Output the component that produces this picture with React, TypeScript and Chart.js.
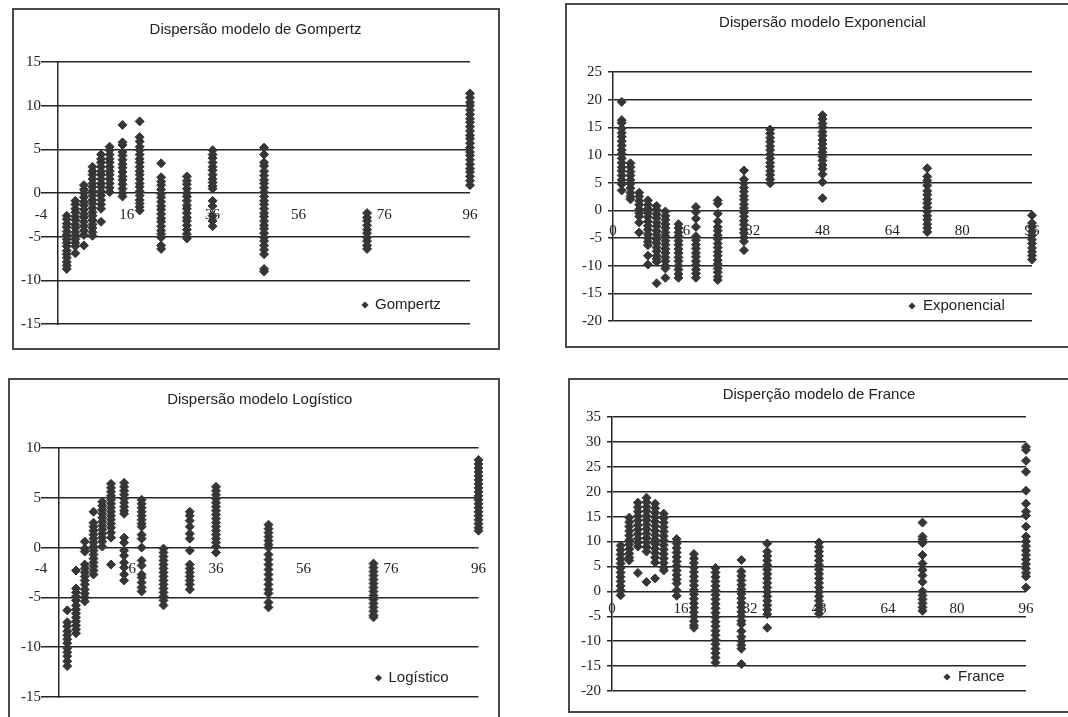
import React, { useEffect, useRef } from "react";
import { Chart, registerables } from "chart.js";

Chart.register(...registerables);

// Sampling times (h)
const times = [2, 4, 6, 8, 10, 12, 15, 19, 24, 30, 36, 48, 72, 96];

// Residuals, one list per sampling time
const gompertz: number[][] = [
  [-2.6, -3.0, -3.5, -3.9, -4.4, -4.8, -5.3, -5.7, -6.1, -6.6, -7.0, -7.4, -7.9, -8.3, -8.7],
  [-0.9, -1.3, -1.8, -2.2, -2.7, -3.1, -3.6, -4.0, -4.5, -4.9, -5.3, -5.7, -6.1, -6.9],
  [0.9, 0.4, 0.0, -0.5, -1.0, -1.4, -1.9, -2.4, -2.8, -3.3, -3.8, -4.3, -4.8, -6.0],
  [3.0, 2.5, 2.1, 1.6, 1.1, 0.7, 0.2, -0.3, -0.8, -1.2, -1.7, -2.2, -2.6, -3.1, -3.6, -4.0, -4.5, -4.9],
  [4.4, 3.9, 3.5, 3.0, 2.5, 2.1, 1.6, 1.1, 0.7, 0.2, -0.3, -0.8, -1.3, -1.8, -3.3],
  [5.3, 4.9, 4.4, 3.9, 3.5, 3.0, 2.5, 2.1, 1.6, 1.1, 0.6, 0.1],
  [7.8, 5.8, 5.5, 4.7, 4.3, 3.8, 3.3, 2.9, 2.4, 1.9, 1.5, 1.0, 0.5, 0.0, -0.4],
  [8.2, 6.4, 5.9, 5.3, 4.9, 4.4, 3.9, 3.5, 3.0, 2.5, 2.1, 1.6, 1.1, 0.7, 0.2, -0.3, -0.8, -1.2, -1.6, -2.0],
  [3.4, 1.8, 1.3, 0.9, 0.4, -0.1, -0.5, -1.0, -1.5, -1.9, -2.4, -2.9, -3.3, -3.8, -4.3, -4.7, -5.1, -6.0, -6.4],
  [1.9, 1.4, 1.0, 0.5, 0.0, -0.4, -0.9, -1.4, -1.8, -2.3, -2.8, -3.2, -3.7, -4.2, -4.7, -5.2],
  [4.9, 4.4, 4.0, 3.5, 3.0, 2.6, 2.1, 1.6, 1.2, 0.8, 0.5, -0.9, -1.5, -2.6, -3.2, -3.8],
  [5.2, 4.4, 3.5, 3.1, 2.5, 2.0, 1.5, 1.1, 0.6, 0.1, -0.4, -0.9, -1.3, -1.8, -2.3, -2.7, -3.2, -3.7, -4.1, -4.6, -5.1, -5.5, -6.0, -6.5, -7.0, -8.7, -9.0],
  [-2.3, -2.8, -3.2, -3.7, -4.2, -4.6, -5.1, -5.5, -6.0, -6.4],
  [11.4, 10.9, 10.4, 10.0, 9.5, 9.0, 8.5, 8.1, 7.6, 7.1, 6.6, 6.2, 5.7, 5.2, 4.7, 4.3, 3.8, 3.3, 2.8, 2.4, 1.9, 1.4, 0.9],
];

const exponencial: number[][] = [
  [19.6, 16.3, 15.8, 14.8, 14.0, 13.3, 12.5, 11.7, 10.9, 10.2, 9.4, 8.6, 7.8, 7.1, 6.3, 5.5, 4.7, 3.6],
  [8.5, 7.8, 7.0, 6.3, 5.5, 4.8, 4.0, 3.2, 2.5, 2.0],
  [3.2, 2.5, 1.7, 1.0, 0.2, -0.5, -1.1, -2.2, -4.0],
  [1.8, 1.0, 0.3, -0.5, -1.2, -2.0, -2.8, -3.5, -4.3, -5.0, -5.7, -6.3, -8.2, -9.8],
  [0.8, 0.1, -0.7, -1.4, -2.2, -2.9, -3.7, -4.4, -5.2, -5.9, -6.7, -7.4, -8.2, -8.8, -9.3, -13.2],
  [-0.2, -1.0, -1.7, -2.5, -3.2, -4.0, -4.7, -5.5, -6.2, -7.0, -7.7, -8.5, -9.2, -10.0, -10.5, -12.2],
  [-2.5, -3.2, -4.0, -4.7, -5.5, -6.2, -7.0, -7.7, -8.5, -9.2, -10.0, -10.7, -11.5, -12.2],
  [0.6, -0.3, -1.5, -3.0, -4.7, -5.4, -6.2, -6.9, -7.7, -8.4, -9.2, -9.9, -10.7, -11.4, -12.2],
  [1.8, 1.2, -0.6, -2.0, -3.0, -3.7, -4.5, -5.2, -6.0, -6.7, -7.5, -8.2, -9.0, -9.7, -10.5, -11.2, -12.0, -12.6],
  [7.2, 5.6, 4.9, 4.1, 3.4, 2.6, 1.9, 1.1, 0.4, -0.4, -1.1, -1.9, -2.6, -3.4, -4.1, -4.9, -5.6, -7.2],
  [14.6, 13.9, 13.1, 12.4, 11.6, 10.9, 10.1, 9.4, 8.6, 7.9, 7.1, 6.4, 5.6, 4.9],
  [17.2, 16.5, 15.7, 15.0, 14.2, 13.5, 12.7, 12.0, 11.2, 10.5, 9.7, 9.0, 8.2, 7.5, 6.5, 5.1, 2.2],
  [7.6, 6.1, 5.4, 4.5, 3.5, 2.8, 2.0, 1.3, 0.5, -0.2, -1.0, -1.7, -2.5, -3.2, -3.9],
  [-0.9, -2.3, -3.0, -3.8, -4.5, -5.3, -6.0, -6.8, -7.5, -8.2, -8.9],
];

const logistico: number[][] = [
  [-6.3, -7.5, -7.9, -8.4, -8.8, -9.2, -9.6, -10.1, -10.5, -10.9, -11.4, -11.9],
  [-2.3, -4.1, -4.5, -4.9, -5.3, -5.8, -6.2, -6.6, -7.0, -7.4, -7.8, -8.2, -8.6],
  [0.6, -0.1, -0.4, -1.7, -2.1, -2.5, -2.9, -3.3, -3.7, -4.2, -4.6, -5.0, -5.4],
  [3.6, 2.5, 2.1, 1.7, 1.3, 0.9, 0.5, 0.1, -0.3, -0.7, -1.1, -1.5, -1.9, -2.3, -2.7],
  [4.6, 4.2, 3.8, 3.4, 3.0, 2.6, 2.2, 1.8, 1.4, 1.0, 0.6, 0.1],
  [6.4, 6.0, 5.6, 5.2, 4.8, 4.4, 4.0, 3.6, 3.2, 2.8, 2.4, 2.0, 1.5, 1.0, -1.7],
  [6.5, 6.1, 5.7, 5.3, 4.9, 4.5, 4.1, 3.7, 3.4, 1.0, 0.5, -0.3, -0.8, -1.5, -2.0, -2.7, -3.3],
  [4.8, 4.4, 4.0, 3.6, 3.2, 2.8, 2.4, 2.1, 1.3, 0.9, 0.0, -1.3, -1.8, -2.7, -3.0, -3.5, -4.0, -4.4],
  [-0.1, -0.5, -0.9, -1.3, -1.7, -2.1, -2.5, -2.9, -3.3, -3.7, -4.1, -4.5, -4.9, -5.3, -5.8],
  [3.6, 3.2, 2.7, 2.1, 1.4, 0.9, -0.3, -1.7, -2.1, -2.5, -2.9, -3.3, -3.7, -4.2],
  [6.1, 5.7, 5.3, 4.9, 4.5, 4.1, 3.7, 3.3, 2.9, 2.5, 2.1, 1.7, 1.3, 0.9, 0.5, 0.1, -0.5],
  [2.3, 1.9, 1.5, 1.1, 0.7, 0.3, 0.0, -0.7, -1.2, -1.7, -2.2, -2.7, -3.2, -3.7, -4.2, -4.6, -5.5, -6.0],
  [-1.6, -2.0, -2.4, -2.8, -3.2, -3.6, -4.0, -4.4, -4.8, -5.2, -5.6, -6.0, -6.4, -6.8, -7.0],
  [8.8, 8.4, 8.0, 7.6, 7.2, 6.8, 6.4, 6.0, 5.6, 5.2, 4.8, 4.4, 4.0, 3.6, 3.2, 2.8, 2.4, 2.0, 1.7],
];

const france: number[][] = [
  [9.2, 8.3, 7.4, 6.5, 5.6, 4.7, 3.8, 2.9, 2.0, 1.1, 0.2, -0.8],
  [14.8, 13.9, 13.0, 12.1, 11.2, 10.3, 9.4, 8.5, 7.6, 6.8, 6.2],
  [17.8, 16.9, 16.0, 15.1, 14.2, 13.3, 12.4, 11.5, 10.6, 9.8, 9.0, 3.7],
  [18.8, 17.9, 17.0, 16.1, 15.2, 14.3, 13.4, 12.5, 11.6, 10.7, 9.8, 8.9, 8.0, 1.9],
  [17.6, 16.7, 15.8, 14.9, 14.0, 13.1, 12.2, 11.3, 10.4, 9.5, 8.6, 7.7, 6.8, 5.8, 2.6],
  [15.6, 14.7, 13.8, 12.9, 12.0, 11.1, 10.2, 9.3, 8.4, 7.5, 6.6, 5.7, 4.8, 4.2],
  [10.5, 9.6, 8.7, 7.8, 6.9, 6.0, 5.1, 4.2, 3.3, 2.4, 1.6, 0.2, -0.9],
  [7.5, 6.6, 5.7, 4.8, 3.9, 3.0, 2.1, 1.2, 0.3, -0.6, -1.5, -2.4, -3.3, -4.2, -5.1, -6.0, -6.8, -7.3],
  [4.7, 3.8, 2.9, 2.0, 1.1, 0.2, -0.7, -1.6, -2.5, -3.4, -4.3, -5.2, -6.1, -7.0, -7.9, -8.8, -9.7, -10.6, -11.5, -12.4, -13.3, -14.3],
  [6.3, 4.0, 3.1, 2.2, 1.3, 0.4, -0.5, -1.4, -2.3, -3.2, -4.1, -5.0, -5.9, -6.6, -8.0, -9.1, -10.0, -10.8, -11.5, -14.6],
  [9.6, 8.0, 7.1, 6.2, 5.3, 4.4, 3.5, 2.6, 1.7, 0.8, -0.1, -1.0, -1.9, -2.8, -3.7, -4.6, -7.3],
  [9.8, 8.9, 8.0, 7.1, 6.2, 5.3, 4.4, 3.5, 2.6, 1.7, 0.8, -0.1, -1.0, -1.9, -2.8, -3.7, -4.5],
  [13.8, 11.0, 10.4, 9.7, 7.3, 5.6, 4.3, 3.2, 1.9, 0.0, -0.8, -1.6, -2.4, -3.2, -3.9],
  [29.0, 28.4, 26.2, 24.0, 20.2, 17.6, 16.0, 15.2, 13.0, 11.0, 10.0, 9.1, 8.2, 7.3, 6.4, 5.5, 4.6, 3.7, 3.0, 0.8],
];

// Axis ranges
const gompertzY = [-15, 15];
const exponencialY = [-20, 25];
const logisticoY = [-15, 10];
const franceY = [-20, 35];
const xRangeShifted = [-4, 96]; // ticks -4, 16, 36, 56, 76, 96
const xRangeZero = [0, 96]; // ticks 0, 16, ..., 96

const MARK = "#363636";
const GRID = "#262626";
const TEXT = "#222";
const SERIF = '"Liberation Serif", "Times New Roman", serif';
const SANS = '"Liberation Sans", Arial, sans-serif';

const cornerLegend = {
  id: "cornerLegend",
  afterDraw(chart: any, _args: any, opts: any) {
    const { ctx, chartArea } = chart;
    const ds = chart.data.datasets[0];
    const x = chartArea.right + opts.dx;
    const y = chartArea.bottom + opts.dy;
    const r = 3.6;
    ctx.save();
    ctx.fillStyle = MARK;
    ctx.beginPath();
    ctx.moveTo(x, y - r);
    ctx.lineTo(x + r, y);
    ctx.lineTo(x, y + r);
    ctx.lineTo(x - r, y);
    ctx.closePath();
    ctx.fill();
    ctx.font = `15px ${SANS}`;
    ctx.fillStyle = TEXT;
    ctx.textAlign = "left";
    ctx.textBaseline = "middle";
    ctx.fillText(ds.label, x + opts.gap, y);
    ctx.restore();
  },
};

type Panel = {
  title: string;
  label: string;
  values: number[][];
  x: number[];
  xStep: number;
  y: number[];
  frame: { left: number; top: number; width: number; height: number; noRight?: boolean; noBottom?: boolean };
  canvasW: number;
  canvasH: number;
  yW: number;
  padR: number;
  padB: number;
  titleTop: number;
  titleBottom: number;
  yTickLen: number;
  yTickPad: number;
  yBorder: boolean;
  axisAtZero: boolean;
  xLabelPad: number;
  legend: { dx: number; dy: number; gap: number };
};

const panels: Panel[] = [
  {
    title: "Dispersão modelo de Gompertz",
    label: "Gompertz",
    values: gompertz,
    x: xRangeShifted,
    xStep: 20,
    y: gompertzY,
    frame: { left: 12, top: 8, width: 488, height: 342 },
    canvasW: 484,
    canvasH: 338,
    yW: 27,
    padR: 28,
    padB: 24,
    titleTop: 11,
    titleBottom: 23,
    yTickLen: 0,
    yTickPad: 0,
    yBorder: false,
    axisAtZero: true,
    xLabelPad: 13,
    legend: { dx: -105, dy: -19, gap: 10 },
  },
  {
    title: "Dispersão modelo Exponencial",
    label: "Exponencial",
    values: exponencial,
    x: xRangeZero,
    xStep: 16,
    y: exponencialY,
    frame: { left: 565, top: 3, width: 503, height: 345, noRight: true },
    canvasW: 501,
    canvasH: 341,
    yW: 46,
    padR: 36,
    padB: 25,
    titleTop: 9,
    titleBottom: 40,
    yTickLen: 5,
    yTickPad: 6,
    yBorder: true,
    axisAtZero: false,
    xLabelPad: 12,
    legend: { dx: -120, dy: -15, gap: 11 },
  },
  {
    title: "Dispersão modelo Logístico",
    label: "Logístico",
    values: logistico,
    x: xRangeShifted,
    xStep: 20,
    y: logisticoY,
    frame: { left: 8, top: 378, width: 492, height: 345, noBottom: true },
    canvasW: 488,
    canvasH: 337,
    yW: 31,
    padR: 18,
    padB: 20,
    titleTop: 11,
    titleBottom: 39,
    yTickLen: 0,
    yTickPad: 0,
    yBorder: false,
    axisAtZero: true,
    xLabelPad: 12,
    legend: { dx: -100, dy: -19, gap: 10 },
  },
  {
    title: "Disperção modelo de France",
    label: "France",
    values: france,
    x: xRangeZero,
    xStep: 16,
    y: franceY,
    frame: { left: 568, top: 378, width: 500, height: 335, noRight: true },
    canvasW: 498,
    canvasH: 331,
    yW: 42,
    padR: 42,
    padB: 20,
    titleTop: 6,
    titleBottom: 13,
    yTickLen: 5,
    yTickPad: 6,
    yBorder: true,
    axisAtZero: false,
    xLabelPad: 9,
    legend: { dx: -79, dy: -14, gap: 11 },
  },
];

function ScatterPanel({ p }: { p: Panel }) {
  const ref = useRef<HTMLCanvasElement | null>(null);

  useEffect(() => {
    if (!ref.current) return;
    const points: { x: number; y: number }[] = [];
    times.forEach((t, i) => {
      p.values[i].forEach((v) => points.push({ x: t, y: v }));
    });

    const scales: any = {
      x: {
        type: "linear",
        position: { y: 0 },
        min: p.x[0],
        max: p.x[1],
        ticks: {
          stepSize: p.xStep,
          font: { family: SERIF, size: 15 },
          color: TEXT,
          padding: p.xLabelPad,
          maxRotation: 0,
          autoSkip: false,
        },
        grid: { display: false, drawTicks: false, tickLength: 0 },
        border: { display: false },
      },
      y: {
        type: "linear",
        position: "left",
        min: p.y[0],
        max: p.y[1],
        ticks: {
          stepSize: 5,
          font: { family: SERIF, size: 15 },
          color: TEXT,
          padding: p.yTickPad,
          autoSkip: false,
        },
        grid: {
          color: GRID,
          lineWidth: 1.5,
          drawTicks: p.yTickLen > 0,
          tickLength: p.yTickLen,
        },
        border: { display: p.yBorder, color: GRID, width: 1.5 },
        afterFit: (s: any) => {
          s.width = p.yW;
        },
      },
    };
    if (p.axisAtZero) {
      scales.yZero = {
        axis: "y",
        type: "linear",
        position: { x: 0 },
        min: p.y[0],
        max: p.y[1],
        ticks: { display: false },
        grid: { display: false, drawTicks: false, tickLength: 0 },
        border: { display: true, color: GRID, width: 1.5 },
      };
    }

    const chart = new Chart(ref.current, {
      type: "scatter",
      data: {
        datasets: [
          {
            label: p.label,
            data: points,
            pointStyle: "rectRot",
            pointRadius: 4.5,
            pointHoverRadius: 4.5,
            backgroundColor: MARK,
            borderColor: MARK,
            borderWidth: 1,
            clip: false,
          } as any,
        ],
      },
      options: {
        animation: false,
        responsive: false,
        devicePixelRatio: 1,
        events: [],
        layout: { padding: { left: 0, right: p.padR, top: 0, bottom: p.padB } },
        scales,
        plugins: {
          legend: { display: false },
          tooltip: { enabled: false },
          title: {
            display: true,
            fullSize: false,
            text: p.title,
            color: TEXT,
            font: { family: SANS, size: 15, weight: "normal" as any, lineHeight: 1.2 },
            padding: { top: p.titleTop, bottom: p.titleBottom },
          },
          cornerLegend: p.legend,
        } as any,
      },
      plugins: [cornerLegend as any],
    });
    return () => chart.destroy();
  }, [p]);

  const f = p.frame;
  return (
    <div
      style={{
        position: "absolute",
        left: f.left,
        top: f.top,
        width: f.width,
        height: f.height,
        boxSizing: "border-box",
        border: "2px solid #4a4a4a",
        borderRight: f.noRight ? "none" : "2px solid #4a4a4a",
        borderBottom: f.noBottom ? "none" : "2px solid #4a4a4a",
        background: "#fff",
      }}
    >
      <canvas
        ref={ref}
        width={p.canvasW}
        height={p.canvasH}
        style={{ position: "absolute", left: 0, top: 0, width: p.canvasW, height: p.canvasH, display: "block" }}
      />
    </div>
  );
}

export default function App() {
  return (
    <div
      style={{
        position: "fixed",
        left: 0,
        top: 0,
        width: 1068,
        height: 717,
        overflow: "hidden",
        background: "#fff",
      }}
    >
      {panels.map((p) => (
        <ScatterPanel key={p.label} p={p} />
      ))}
    </div>
  );
}
